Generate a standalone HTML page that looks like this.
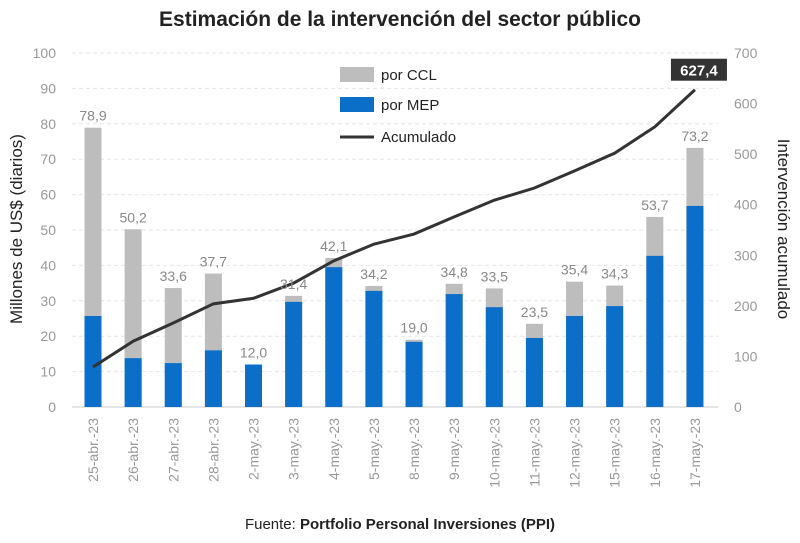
<!DOCTYPE html>
<html><head><meta charset="utf-8"><style>
body{margin:0;background:#fff;}
svg text{font-family:"Liberation Sans",sans-serif;}
</style></head><body>
<svg id="chart" width="800" height="538" viewBox="0 0 800 538" xmlns="http://www.w3.org/2000/svg">
<text x="400" y="26" text-anchor="middle" font-size="21" font-weight="bold" fill="#222">Estimación de la intervención del sector público</text>
<text transform="translate(22,229) rotate(-90)" text-anchor="middle" font-size="17" fill="#222">Millones de US$ (diarios)</text>
<text transform="translate(778,229) rotate(90)" text-anchor="middle" font-size="17" fill="#222">Intervención acumulado</text>
<text x="400" y="529" text-anchor="middle" font-size="15" fill="#222">Fuente: <tspan font-weight="bold">Portfolio Personal Inversiones (PPI)</tspan></text>
<g id="grid"></g><g id="bars"></g><g id="line"></g><g id="labels"></g>
<g>
<rect x="340" y="67" width="34" height="15" fill="#bdbdbd"/>
<text x="381" y="80" font-size="15" fill="#222">por CCL</text>
<rect x="340" y="97" width="34" height="15" fill="#0b6fc9"/>
<text x="381" y="110" font-size="15" fill="#222">por MEP</text>
<line x1="340" y1="137" x2="374" y2="137" stroke="#333" stroke-width="3"/>
<text x="381" y="142" font-size="15" fill="#222">Acumulado</text>
</g>
</svg>
<script>
const categories=["25-abr.-23","26-abr.-23","27-abr.-23","28-abr.-23","2-may.-23","3-may.-23","4-may.-23","5-may.-23","8-may.-23","9-may.-23","10-may.-23","11-may.-23","12-may.-23","15-may.-23","16-may.-23","17-may.-23"];
const totals=[78.9,50.2,33.6,37.7,12.0,31.4,42.1,34.2,19.0,34.8,33.5,23.5,35.4,34.3,53.7,73.2];
const mep=[25.7,13.8,12.4,16.0,12.0,29.7,39.5,32.8,18.4,31.9,28.2,19.5,25.7,28.5,42.7,56.8];
const acumulado=[79,130,166,204,215,245,289,322,342,376,409,433,467,502,554,627.4];
const leftTicks=[0,10,20,30,40,50,60,70,80,90,100];
const rightTicks=[0,100,200,300,400,500,600,700];
const NS="http://www.w3.org/2000/svg";
const y0=407,y1=53;
const yL=v=>y0-(v/100)*(y0-y1);
const yR=v=>y0-(v/700)*(y0-y1);
const xC=i=>93+i*40.13;
function mk(t,a,p){const e=document.createElementNS(NS,t);for(const k in a)e.setAttribute(k,a[k]);document.getElementById(p).appendChild(e);return e;}
leftTicks.forEach(v=>{
 const g=mk("line",{x1:72,x2:718,y1:yL(v),y2:yL(v),stroke:v===0?"#ccc":"#e6e6e6","stroke-dasharray":v===0?"":"4 3"},"grid");
 
 
 const t=mk("text",{x:56,y:yL(v)+5,"text-anchor":"end","font-size":14,fill:"#999"},"grid");t.textContent=v;
 
 
});
rightTicks.forEach(v=>{
 const t=mk("text",{x:734,y:yR(v)+5,"font-size":14,fill:"#999"},"grid");t.textContent=v;
 
 
});
categories.forEach((c,i)=>{
 const x=xC(i)-8.5;
 const r1=mk("rect",{x:x,y:yL(totals[i]),width:17,height:yL(0)-yL(totals[i]),fill:"#bdbdbd"},"bars");
 
 
 const r2=mk("rect",{x:x,y:yL(mep[i]),width:17,height:yL(0)-yL(mep[i]),fill:"#0b6fc9"},"bars");
 
 
 const vl=mk("text",{x:xC(i),y:yL(totals[i])-7,"text-anchor":"middle","font-size":14,fill:"#888"},"labels");
 vl.textContent=totals[i].toFixed(1).replace(".",",");
 
 
 const cl=mk("text",{transform:`translate(${xC(i)+5},418) rotate(-90)`,"text-anchor":"end","font-size":14,fill:"#999"},"labels");
 cl.textContent=c;
 
 
});
const pl=mk("polyline",{points:acumulado.map((v,i)=>xC(i)+","+yR(v)).join(" "),fill:"none",stroke:"#333","stroke-width":3},"line");


const last=acumulado.length-1,lx=xC(last),ly=yR(acumulado[last]);
const bx=mk("rect",{x:lx-24,y:ly-31,width:56,height:22,fill:"#333"},"labels");


const bt=mk("text",{x:lx+4,y:ly-14,"text-anchor":"middle","font-size":15,"font-weight":"bold",fill:"#fff"},"labels");
bt.textContent=acumulado[last].toFixed(1).replace(".",",");


</script>
</body></html>
